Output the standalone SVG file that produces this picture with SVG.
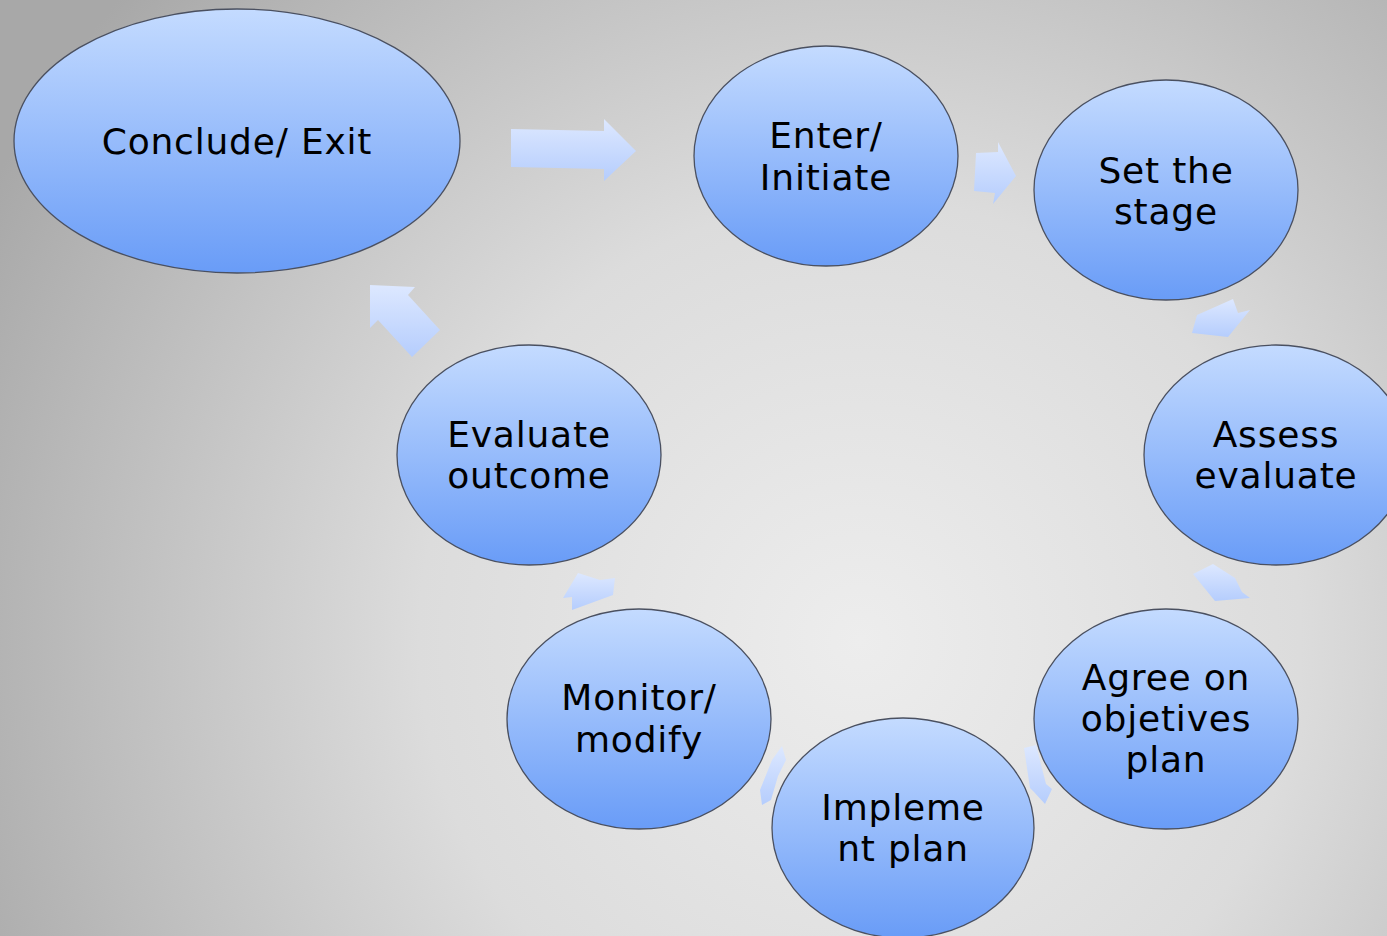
<svg xmlns="http://www.w3.org/2000/svg" width="1387" height="936" viewBox="0 0 1387 936">
<defs>
<radialGradient id="bg" cx="860" cy="640" r="980" gradientUnits="userSpaceOnUse">
<stop offset="0" stop-color="#ededed"/>
<stop offset="0.45" stop-color="#dcdcdc"/>
<stop offset="1" stop-color="#a8a8a8"/>
</radialGradient>
<linearGradient id="ell" x1="0" y1="0" x2="0" y2="1">
<stop offset="0" stop-color="#c4dbff"/>
<stop offset="1" stop-color="#699cf7"/>
</linearGradient>
<linearGradient id="arr" x1="0" y1="0" x2="0" y2="1">
<stop offset="0" stop-color="#dde8ff"/>
<stop offset="1" stop-color="#b5cdfd"/>
</linearGradient>
</defs>
<style>
.node ellipse{fill:url(#ell);stroke:#4a5060;stroke-width:1.3}
.node text{font-family:"DejaVu Sans","Liberation Sans",sans-serif;font-size:36px;letter-spacing:0.8px;fill:#000;text-anchor:middle}
.conn polygon{fill:url(#arr);stroke:none}
</style>
<rect width="1387" height="936" fill="url(#bg)"/>
<g class="conn" id="connectors">
<polygon points="511,129 604,131 604,119 636,151 604,181 604,169 511,167"/>
<polygon points="976,153 998,152 998,142 1016,176 993,204 995,193 974,191"/>
<polygon points="1197,315 1233,299 1238,313 1250,310 1228,337 1192,333"/>
<polygon points="1193,574 1213,564 1235,578 1242,592 1250,598 1215,601"/>
<polygon points="1024,748 1036,745 1046,784 1052,789 1045,804 1034,792 1030,788"/>
<polygon points="782,746 786,760 778,776 771,800 762,805 760,790 768,770 772,760"/>
<polygon points="578,573 600,580 615,578 613,595 572,610 572,597 563,598"/>
<polygon points="370,285 415,287 408,295 440,330 412,357 378,320 370,328"/>
</g>
<g class="node" id="conclude">
<ellipse cx="237" cy="141" rx="223" ry="132"/>
<text x="237" y="154">Conclude/ Exit</text>
</g>
<g class="node" id="enter">
<ellipse cx="826" cy="156" rx="132" ry="110"/>
<text x="826" y="148">Enter/</text>
<text x="826" y="190">Initiate</text>
</g>
<g class="node" id="setstage">
<ellipse cx="1166" cy="190" rx="132" ry="110"/>
<text x="1166" y="183">Set the</text>
<text x="1166" y="224">stage</text>
</g>
<g class="node" id="assess">
<ellipse cx="1276" cy="455" rx="132" ry="110"/>
<text x="1276" y="447">Assess</text>
<text x="1276" y="488">evaluate</text>
</g>
<g class="node" id="agree">
<ellipse cx="1166" cy="719" rx="132" ry="110"/>
<text x="1166" y="690">Agree on</text>
<text x="1166" y="731">objetives</text>
<text x="1166" y="772">plan</text>
</g>
<g class="node" id="implement">
<ellipse cx="903" cy="828" rx="131" ry="110"/>
<text x="903" y="820">Impleme</text>
<text x="903" y="861">nt plan</text>
</g>
<g class="node" id="monitor">
<ellipse cx="639" cy="719" rx="132" ry="110"/>
<text x="639" y="710">Monitor/</text>
<text x="639" y="752">modify</text>
</g>
<g class="node" id="evaluate">
<ellipse cx="529" cy="455" rx="132" ry="110"/>
<text x="529" y="447">Evaluate</text>
<text x="529" y="488">outcome</text>
</g>
</svg>
